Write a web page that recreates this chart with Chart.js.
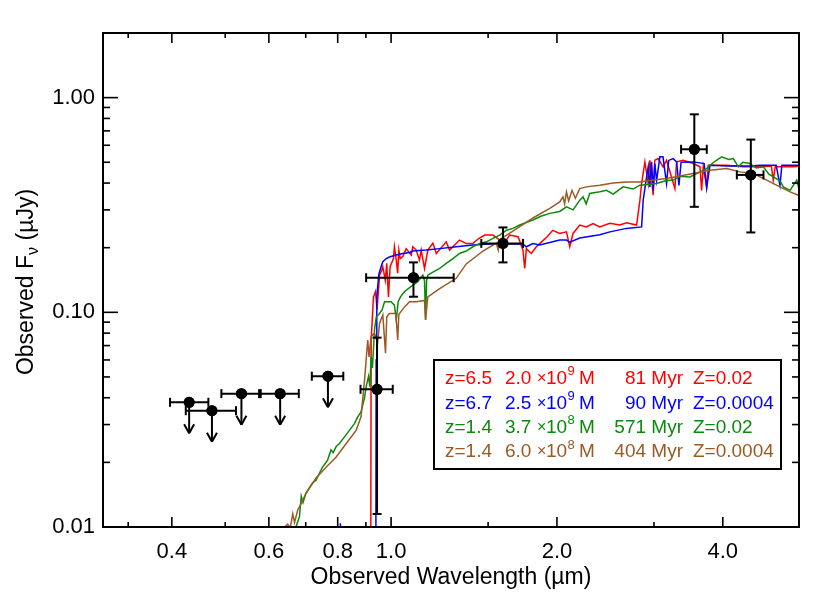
<!DOCTYPE html>
<html>
<head>
<meta charset="utf-8">
<script src="https://cdn.jsdelivr.net/npm/chart.js@4/dist/chart.umd.min.js"></script>
<style>
html,body{margin:0;padding:0;background:#fff;}
#wrap{width:830px;height:593px;position:relative;}
canvas{display:block;}
</style>
</head>
<body>
<div id="wrap"><canvas id="c" width="830" height="593"></canvas></div>
<script>
// ---------- axis ticks ----------
const xTickValues = [0.4, 0.6, 0.8, 1.0, 2.0, 4.0];
const xTickLabels = ['0.4', '0.6', '0.8', '1.0', '2.0', '4.0'];
const xMinorTicks = [0.3333, 0.5, 0.7, 0.9, 1.5, 3.0];
const yTickValues = [0.01, 0.1, 1.0];
const yTickLabels = ['0.01', '0.10', '1.00'];
const yMinorTicks = [0.02, 0.03, 0.04, 0.05, 0.06, 0.07, 0.08, 0.09,
                     0.2, 0.3, 0.4, 0.5, 0.6, 0.7, 0.8, 0.9, 2.0];

// ---------- photometry (µm, µJy) ----------
const photWave   = [0.430, 0.473, 0.535, 0.629, 0.768, 0.943, 1.098, 1.596, 3.551, 4.497];
const photWaveLo = [0.397, 0.424, 0.492, 0.576, 0.718, 0.880, 0.901, 1.458, 3.360, 4.242];
const photWaveHi = [0.466, 0.523, 0.580, 0.680, 0.819, 1.007, 1.299, 1.736, 3.741, 4.741];
const photFlux   = [0.0381, 0.0348, 0.0418, 0.0418, 0.0504, 0.0438, 0.1449, 0.2094, 0.5747, 0.4365];
const photFluxLo = [null, null, null, null, null, 0.0115, 0.1182, 0.1708, 0.310, 0.2355];
const photFluxHi = [null, null, null, null, null, 0.0762, 0.1708, 0.2485, 0.836, 0.6377];
const photUpper  = [true, true, true, true, true, false, false, false, false, false];

// ---------- model spectra ----------
// z=6.5, 2.0e9 M, 81 Myr, Z=0.02 (red)
const redWave = [
  0.918, 0.920, 0.929, 0.937, 0.943, 0.953, 0.962, 0.966, 0.976, 0.982,
  0.989, 0.996, 1.010, 1.014, 1.022, 1.028, 1.033, 1.039, 1.050, 1.065,
  1.088, 1.095, 1.111, 1.126, 1.134, 1.150, 1.166, 1.191, 1.208, 1.259,
  1.277, 1.331, 1.369, 1.407, 1.440, 1.479, 1.531, 1.574, 1.619, 1.641,
  1.700, 1.735, 1.748, 1.760, 1.797, 1.835, 1.861, 1.920, 1.965, 2.023,
  2.081, 2.110, 2.139, 2.200, 2.262, 2.326, 2.392, 2.495, 2.600, 2.675,
  2.790, 2.829, 2.849, 2.888, 2.929, 2.949, 2.990, 3.011, 3.053, 3.117,
  3.162, 3.274, 3.298, 3.390, 3.535, 3.636, 3.661, 3.686, 3.739, 3.764,
  4.066, 4.358, 4.673, 4.900, 4.940, 4.980, 5.200, 5.371, 5.524];
const redFlux = [
  0.003, 0.074, 0.118, 0.125, 0.103, 0.149, 0.157, 0.163, 0.141, 0.169,
  0.118, 0.163, 0.178, 0.202, 0.175, 0.152, 0.195, 0.178, 0.182, 0.198,
  0.185, 0.202, 0.195, 0.175, 0.195, 0.160, 0.195, 0.210, 0.188, 0.213,
  0.195, 0.217, 0.209, 0.209, 0.220, 0.229, 0.229, 0.217, 0.217, 0.229,
  0.225, 0.195, 0.160, 0.198, 0.188, 0.202, 0.209, 0.225, 0.241, 0.233,
  0.237, 0.202, 0.233, 0.255, 0.250, 0.259, 0.250, 0.260, 0.255, 0.261,
  0.255, 0.333, 0.398, 0.502, 0.398, 0.511, 0.351, 0.511, 0.520, 0.476,
  0.511, 0.377, 0.502, 0.511, 0.493, 0.476, 0.370, 0.476, 0.384, 0.484,
  0.484, 0.476, 0.476, 0.480, 0.413, 0.476, 0.476, 0.476, 0.480];

// z=6.7, 2.5e9 M, 90 Myr, Z=0.0004 (blue)
const blueWave = [
  0.800, 0.809, 0.816, 0.938, 0.9395, 0.942, 0.950, 0.959, 0.966, 0.980,
  0.993, 1.022, 1.050, 1.080, 1.095, 1.158, 1.225, 1.313, 1.407, 1.510,
  1.619, 1.735, 1.760, 1.809, 1.861, 2.023, 2.081, 2.110, 2.200, 2.392,
  2.495, 2.675, 2.849, 2.868, 2.909, 2.929, 2.949, 2.970, 2.990, 3.011,
  3.033, 3.075, 3.115, 3.162, 3.190, 3.251, 3.298, 3.330, 3.360, 3.535,
  3.700, 3.739, 3.791, 4.066, 4.500, 4.673, 5.000, 5.080, 5.120, 5.524];
const blueFlux = [
  0.004, 0.0104, 0.004, 0.004, 0.060, 0.118, 0.150, 0.163, 0.172, 0.178,
  0.181, 0.185, 0.188, 0.190, 0.193, 0.195, 0.198, 0.202, 0.206, 0.208,
  0.208, 0.208, 0.202, 0.209, 0.206, 0.217, 0.217, 0.212, 0.222, 0.230,
  0.237, 0.246, 0.250, 0.333, 0.427, 0.476, 0.384, 0.502, 0.370, 0.493,
  0.410, 0.530, 0.530, 0.398, 0.510, 0.520, 0.502, 0.390, 0.500, 0.502,
  0.493, 0.380, 0.484, 0.480, 0.480, 0.484, 0.484, 0.390, 0.484, 0.484];

// z=1.4, 3.7e8 M, 571 Myr, Z=0.02 (green)
const greenWave = [
  0.660, 0.672, 0.682, 0.687, 0.692, 0.701, 0.721, 0.731, 0.741, 0.751,
  0.767, 0.778, 0.785, 0.795, 0.806, 0.823, 0.840, 0.858, 0.870, 0.882,
  0.895, 0.901, 0.910, 0.915, 0.920, 0.925, 0.933, 0.940, 0.953, 0.963,
  0.973, 0.986, 1.000, 1.014, 1.022, 1.030, 1.040, 1.058, 1.088, 1.118,
  1.142, 1.150, 1.155, 1.160, 1.166, 1.191, 1.225, 1.259, 1.295, 1.331,
  1.369, 1.407, 1.448, 1.489, 1.531, 1.574, 1.619, 1.664, 1.712, 1.760,
  1.809, 1.870, 1.941, 2.023, 2.081, 2.140, 2.200, 2.231, 2.260, 2.294,
  2.392, 2.460, 2.530, 2.637, 2.750, 2.829, 2.950, 3.033, 3.150, 3.251,
  3.343, 3.486, 3.600, 3.739, 3.850, 3.981, 4.100, 4.180, 4.268, 4.350,
  4.481, 4.600, 4.738, 4.850, 4.940, 5.080, 5.151, 5.298, 5.449, 5.524];
const greenFlux = [
  0.005, 0.0100, 0.0112, 0.0139, 0.0130, 0.0144, 0.0161, 0.0165, 0.0178, 0.0190,
  0.0205, 0.0229, 0.0222, 0.0237, 0.0245, 0.0263, 0.0282, 0.0303, 0.0326, 0.0344,
  0.0400, 0.0451, 0.0503, 0.0450, 0.0622, 0.0550, 0.0829, 0.0953, 0.0987, 0.1025,
  0.112, 0.112, 0.112, 0.108, 0.092, 0.112, 0.118, 0.125, 0.132, 0.139,
  0.149, 0.140, 0.092, 0.140, 0.149, 0.154, 0.160, 0.169, 0.178, 0.188,
  0.193, 0.202, 0.209, 0.213, 0.221, 0.229, 0.241, 0.246, 0.255, 0.262,
  0.269, 0.280, 0.289, 0.295, 0.310, 0.300, 0.333, 0.345, 0.320, 0.358,
  0.364, 0.370, 0.355, 0.384, 0.375, 0.391, 0.395, 0.398, 0.410, 0.413,
  0.430, 0.427, 0.445, 0.467, 0.500, 0.530, 0.515, 0.520, 0.476, 0.500,
  0.493, 0.470, 0.476, 0.440, 0.427, 0.410, 0.384, 0.370, 0.413, 0.358];

// z=1.4, 6.0e8 M, 404 Myr, Z=0.0004 (brown)
const brownWave = [
  0.630, 0.636, 0.649, 0.656, 0.663, 0.668, 0.677, 0.687, 0.701, 0.731,
  0.762, 0.795, 0.829, 0.864, 0.882, 0.895, 0.907, 0.912, 0.920, 0.933,
  0.945, 0.953, 0.966, 0.977, 0.982, 0.993, 1.020, 1.028, 1.033, 1.058,
  1.080, 1.111, 1.150, 1.155, 1.166, 1.225, 1.313, 1.369, 1.468, 1.552,
  1.565, 1.574, 1.688, 1.809, 1.941, 2.023, 2.051, 2.065, 2.081, 2.100,
  2.130, 2.160, 2.200, 2.262, 2.392, 2.529, 2.675, 2.829, 2.990, 3.162,
  3.343, 3.535, 3.791, 4.066, 4.298, 4.544, 4.806, 5.080, 5.298, 5.485];
const brownFlux = [
  0.006, 0.0098, 0.0103, 0.0099, 0.0115, 0.0105, 0.0120, 0.0129, 0.0144, 0.0169,
  0.0190, 0.0212, 0.0245, 0.0282, 0.0326, 0.0484, 0.0743, 0.0620, 0.0772, 0.0800,
  0.0720, 0.0889, 0.0973, 0.0645, 0.0950, 0.0987, 0.0987, 0.0743, 0.0980, 0.106,
  0.112, 0.112, 0.1136, 0.0925, 0.118, 0.129, 0.144, 0.168, 0.193, 0.210,
  0.195, 0.218, 0.245, 0.275, 0.305, 0.327, 0.345, 0.320, 0.364, 0.330,
  0.370, 0.340, 0.377, 0.384, 0.391, 0.400, 0.405, 0.405, 0.413, 0.420,
  0.431, 0.443, 0.459, 0.467, 0.451, 0.443, 0.413, 0.384, 0.364, 0.351];

// ---------- legend text ----------
const seriesColors  = ['#ff0000', '#0000ff', '#0a8a0a', '#9a5a24'];
const legendRedshift = ['z=6.5', 'z=6.7', 'z=1.4', 'z=1.4'];
const legendMass     = ['2.0', '2.5', '3.7', '6.0'];
const legendMassExp  = ['9', '9', '8', '8'];
const legendAge      = ['81', '90', '571', '404'];
const legendMetal    = ['0.02', '0.0004', '0.02', '0.0004'];

const FONT = "'Liberation Sans', Arial, Helvetica, sans-serif";

function pts(xs, ys) { return xs.map((x, i) => ({x: x, y: ys[i]})); }

function spec(label, xs, ys, color, order) {
  return {label: label, data: pts(xs, ys), showLine: true, pointRadius: 0,
          borderColor: color, backgroundColor: color, borderWidth: 1.5,
          tension: 0, fill: false, order: order};
}

const decorPlugin = {
  id: 'decor',
  afterDatasetsDraw(chart) {
    const ctx = chart.ctx;
    const xs = chart.scales.x, ys = chart.scales.y;
    ctx.save();
    ctx.strokeStyle = '#000';
    ctx.lineWidth = 2;
    ctx.lineCap = 'butt';
    function line(x1, y1, x2, y2) { ctx.beginPath(); ctx.moveTo(x1, y1); ctx.lineTo(x2, y2); ctx.stroke(); }
    for (let i = 0; i < photWave.length; i++) {
      const px = xs.getPixelForValue(photWave[i]);
      const py = ys.getPixelForValue(photFlux[i]);
      const xl = xs.getPixelForValue(photWaveLo[i]);
      const xh = xs.getPixelForValue(photWaveHi[i]);
      line(xl, py, xh, py);
      line(xl, py - 4.5, xl, py + 4.5);
      line(xh, py - 4.5, xh, py + 4.5);
      if (photUpper[i]) {
        line(px, py, px, py + 31);
        line(px - 5, py + 22, px, py + 31);
        line(px + 5, py + 22, px, py + 31);
      } else {
        const yl = ys.getPixelForValue(photFluxLo[i]);
        const yh = ys.getPixelForValue(photFluxHi[i]);
        line(px, yl, px, yh);
        line(px - 4.5, yl, px + 4.5, yl);
        line(px - 4.5, yh, px + 4.5, yh);
      }
    }
    // redraw the dots on top of the bars
    ctx.fillStyle = '#000';
    for (let i = 0; i < photWave.length; i++) {
      const px = xs.getPixelForValue(photWave[i]);
      const py = ys.getPixelForValue(photFlux[i]);
      ctx.beginPath(); ctx.arc(px, py, 5.5, 0, Math.PI * 2); ctx.fill();
    }
    ctx.restore();
  },
  afterDraw(chart) {
    const ctx = chart.ctx, a = chart.chartArea;
    const xs = chart.scales.x, ys = chart.scales.y;
    ctx.save();
    ctx.strokeStyle = '#000';
    ctx.lineWidth = 1.6;
    function line(x1, y1, x2, y2) { ctx.beginPath(); ctx.moveTo(x1, y1); ctx.lineTo(x2, y2); ctx.stroke(); }
    xTickValues.forEach(v => { const p = xs.getPixelForValue(v); line(p, a.bottom, p, a.bottom - 10); line(p, a.top, p, a.top + 10); });
    xMinorTicks.forEach(v => { const p = xs.getPixelForValue(v); line(p, a.bottom, p, a.bottom - 5); line(p, a.top, p, a.top + 5); });
    yTickValues.forEach(v => { const p = ys.getPixelForValue(v); line(a.left, p, a.left + 15, p); line(a.right, p, a.right - 15, p); });
    yMinorTicks.forEach(v => { const p = ys.getPixelForValue(v); line(a.left, p, a.left + 7, p); line(a.right, p, a.right - 7, p); });
    ctx.lineWidth = 2;
    ctx.strokeRect(a.left, a.top, a.right - a.left, a.bottom - a.top);

    // y axis title with subscript nu
    ctx.save();
    const cy = (a.top + a.bottom) / 2 + 2;
    ctx.translate(33, cy);
    ctx.rotate(-Math.PI / 2);
    ctx.fillStyle = '#000';
    ctx.textBaseline = 'alphabetic';
    ctx.textAlign = 'left';
    const big = '23px ' + FONT, small = '16px ' + FONT;
    const t1 = 'Observed F', t2 = '\u03BD', t3 = ' (\u00B5Jy)';
    ctx.font = big; const w1 = ctx.measureText(t1).width, w3 = ctx.measureText(t3).width;
    ctx.font = small; const w2 = ctx.measureText(t2).width;
    let x0 = -(w1 + w2 + w3) / 2;
    ctx.font = big; ctx.fillText(t1, x0, 0); x0 += w1;
    ctx.font = small; ctx.fillText(t2, x0, 5); x0 += w2;
    ctx.font = big; ctx.fillText(t3, x0, 0);
    ctx.restore();

    // legend box
    const bx = 434, by = 360, bw = 347, bh = 109;
    ctx.fillStyle = '#fff';
    ctx.fillRect(bx, by, bw, bh);
    ctx.lineWidth = 2;
    ctx.strokeStyle = '#000';
    ctx.strokeRect(bx, by, bw, bh);
    ctx.textBaseline = 'middle';
    const f = '19px ' + FONT, fx = '16px ' + FONT, fs = '13px ' + FONT;
    const rowY = [378.5, 403.5, 427.5, 452];
    for (let i = 0; i < 4; i++) {
      const y = rowY[i];
      ctx.fillStyle = seriesColors[i];
      ctx.textAlign = 'left';
      ctx.font = f;
      ctx.fillText(legendRedshift[i], 445, y);
      ctx.fillText(legendMass[i], 505, y);
      ctx.font = fx;
      ctx.fillText('\u00D7', 537, y);
      ctx.font = f;
      ctx.fillText('10', 546, y);
      ctx.font = fs;
      ctx.fillText(legendMassExp[i], 567.5, y - 7);
      ctx.font = f;
      ctx.fillText('M', 579, y);
      ctx.textAlign = 'right';
      ctx.fillText(legendAge[i] + ' Myr', 683, y);
      ctx.textAlign = 'left';
      ctx.fillText('Z=' + legendMetal[i], 693, y);
    }
    ctx.restore();
  }
};

new Chart(document.getElementById('c').getContext('2d'), {
  type: 'scatter',
  data: {
    datasets: [
      {label: 'photometry', data: pts(photWave, photFlux), showLine: false,
       pointRadius: 5.5, pointHoverRadius: 5.5, pointBorderWidth: 0,
       pointBackgroundColor: '#000', pointBorderColor: '#000', order: 0},
      spec('z=6.5 Z=0.02', redWave, redFlux, seriesColors[0], 4),
      spec('z=6.7 Z=0.0004', blueWave, blueFlux, seriesColors[1], 3),
      spec('z=1.4 Z=0.02', greenWave, greenFlux, seriesColors[2], 2),
      spec('z=1.4 Z=0.0004', brownWave, brownFlux, seriesColors[3], 1)
    ]
  },
  options: {
    responsive: false,
    animation: false,
    devicePixelRatio: 1,
    events: [],
    layout: {padding: {top: 33, right: 31, left: 0, bottom: 0}},
    plugins: {legend: {display: false}, tooltip: {enabled: false}, title: {display: false}},
    scales: {
      x: {
        type: 'logarithmic', position: 'bottom', min: 0.3, max: 5.5, bounds: 'data',
        grid: {display: false, drawTicks: false},
        border: {display: false},
        afterBuildTicks: s => { s.ticks = xTickValues.map(v => ({value: v})); },
        afterFit: s => { s.height = 66; },
        ticks: {autoSkip: false, maxRotation: 0, minRotation: 0, padding: 12, color: '#000',
                font: {family: FONT, size: 22},
                callback: (v, i) => xTickLabels[i]},
        title: {display: true, text: 'Observed Wavelength (\u00B5m)', color: '#000',
                font: {family: FONT, size: 23}, padding: {top: 0, bottom: 2}}
      },
      y: {
        type: 'logarithmic', position: 'left', min: 0.01, max: 2.0, bounds: 'data',
        grid: {display: false, drawTicks: false},
        border: {display: false},
        afterBuildTicks: s => { s.ticks = yTickValues.map(v => ({value: v})); },
        afterFit: s => { s.width = 103; },
        ticks: {autoSkip: false, padding: 8, color: '#000',
                font: {family: FONT, size: 22},
                callback: (v, i) => yTickLabels[i]}
      }
    }
  },
  plugins: [decorPlugin]
});
</script>
</body>
</html>
